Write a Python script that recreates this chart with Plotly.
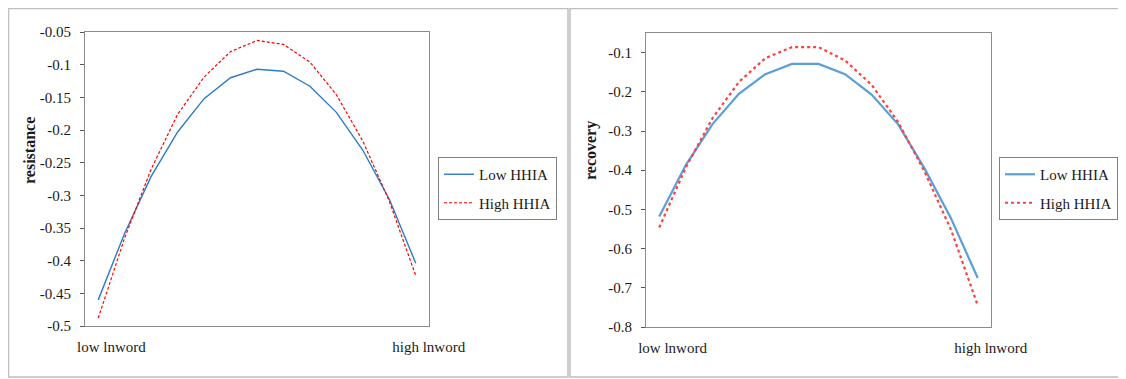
import plotly.graph_objects as go

# page body keeps an 8px margin, so the figure is drawn 8px smaller and
# all reference pixel positions are shifted by that offset
OFF = 8
W, H = 1126 - OFF, 379 - OFF

# ---- data ----
points = list(range(13))  # 13 equally spaced lnword levels
x_tick_labels = ["low lnword", "high lnword"]

resistance_low = [-0.460, -0.358, -0.271, -0.203, -0.152, -0.120, -0.107,
                  -0.110, -0.133, -0.173, -0.231, -0.306, -0.404]
resistance_high = [-0.488, -0.365, -0.260, -0.176, -0.119, -0.080, -0.063,
                   -0.069, -0.096, -0.146, -0.217, -0.309, -0.423]

recovery_low = [-0.518, -0.387, -0.283, -0.205, -0.155, -0.129, -0.129,
                -0.155, -0.207, -0.283, -0.396, -0.524, -0.675]
recovery_high = [-0.546, -0.393, -0.268, -0.175, -0.114, -0.086, -0.086,
                 -0.120, -0.182, -0.277, -0.404, -0.553, -0.745]

res_ticks = [-0.05, -0.1, -0.15, -0.2, -0.25, -0.3, -0.35, -0.4, -0.45, -0.5]
res_ticktext = ["-0.05", "-0.1", "-0.15", "-0.2", "-0.25", "-0.3", "-0.35", "-0.4", "-0.45", "-0.5"]
rec_ticks = [-0.1, -0.2, -0.3, -0.4, -0.5, -0.6, -0.7, -0.8]
rec_ticktext = ["-0.1", "-0.2", "-0.3", "-0.4", "-0.5", "-0.6", "-0.7", "-0.8"]

FONT = "Liberation Serif, Times New Roman, serif"


def px_x(p):
    return (p - OFF) / W


def px_y(p):
    return 1 - (p - OFF) / H


fig = go.Figure()

fig.add_trace(go.Scatter(x=points, y=resistance_low, mode="lines", name="Low HHIA",
                         line=dict(color="#2E7BC4", width=1.4),
                         xaxis="x", yaxis="y", legend="legend", legendgroup="a"))
fig.add_trace(go.Scatter(x=points, y=resistance_high, mode="lines", name="High HHIA",
                         line=dict(color="#FF0000", width=1.2, dash="3px,2px"),
                         xaxis="x", yaxis="y", legend="legend", legendgroup="b"))
fig.add_trace(go.Scatter(x=points, y=recovery_low, mode="lines", name="Low HHIA",
                         line=dict(color="#5B9FD8", width=2.2),
                         xaxis="x2", yaxis="y2", legend="legend2", legendgroup="c"))
fig.add_trace(go.Scatter(x=points, y=recovery_high, mode="lines", name="High HHIA",
                         line=dict(color="#FF4040", width=2.2, dash="dot"),
                         xaxis="x2", yaxis="y2", legend="legend2", legendgroup="d"))

xcommon = dict(range=[-0.5, 12.5], tickvals=[0.5, 12.49], ticktext=x_tick_labels,
               showgrid=False, zeroline=False, showline=True, mirror=True, automargin=False,
               linecolor="#8c8c8c", linewidth=1.2, ticks="outside", ticklen=7,
               tickcolor="rgba(0,0,0,0)", tickfont=dict(family=FONT, size=15, color="#1a1a1a"))
ycommon = dict(showgrid=False, zeroline=False, showline=True, mirror=True, automargin=False,
               linecolor="#8c8c8c", linewidth=1.2, ticks="outside", ticklen=4,
               ticklabelstandoff=6,
               tickcolor="#555555", tickfont=dict(family=FONT, size=15, color="#1a1a1a"))

legcommon = dict(bordercolor="#808080", borderwidth=1, bgcolor="white",
                 font=dict(family=FONT, size=15, color="#1a1a1a"),
                 xanchor="left", yanchor="top", traceorder="grouped", tracegroupgap=6)

fig.update_layout(
    width=W, height=H,
    margin=dict(l=0, r=0, t=0, b=0, autoexpand=False),
    paper_bgcolor="white", plot_bgcolor="white",
    showlegend=True,
    xaxis=dict(domain=[px_x(85), px_x(429)], anchor="y", **xcommon),
    yaxis=dict(domain=[px_y(326), px_y(32)], anchor="x", range=[-0.5, -0.05],
               tickvals=res_ticks, ticktext=res_ticktext, **ycommon),
    xaxis2=dict(domain=[px_x(646), px_x(991)], anchor="y2", **xcommon),
    yaxis2=dict(domain=[px_y(327), px_y(33)], anchor="x2", range=[-0.8, -0.05],
                tickvals=rec_ticks, ticktext=rec_ticktext, **ycommon),
    legend=dict(x=px_x(438), y=px_y(157), **legcommon),
    legend2=dict(x=px_x(999), y=px_y(157), **legcommon),
    annotations=[
        dict(text="<b>resistance</b>", x=px_x(30), y=px_y(151), xref="paper", yref="paper",
             xanchor="center", yanchor="middle",
             textangle=-90, showarrow=False, font=dict(family=FONT, size=16, color="#1a1a1a")),
        dict(text="<b>recovery</b>", x=px_x(591), y=px_y(151), xref="paper", yref="paper",
             xanchor="center", yanchor="middle",
             textangle=-90, showarrow=False, font=dict(family=FONT, size=16, color="#1a1a1a")),
    ],
    shapes=[
        dict(type="rect", xref="paper", yref="paper", x0=px_x(8.5), x1=px_x(568),
             y0=px_y(377), y1=px_y(8.5), line=dict(color="#bfbfbf", width=1.5)),
        dict(type="rect", xref="paper", yref="paper", x0=px_x(570), x1=px_x(1135),
             y0=px_y(377), y1=px_y(8.5), line=dict(color="#bfbfbf", width=1.5)),
    ],
)

fig.write_html("out.html")
